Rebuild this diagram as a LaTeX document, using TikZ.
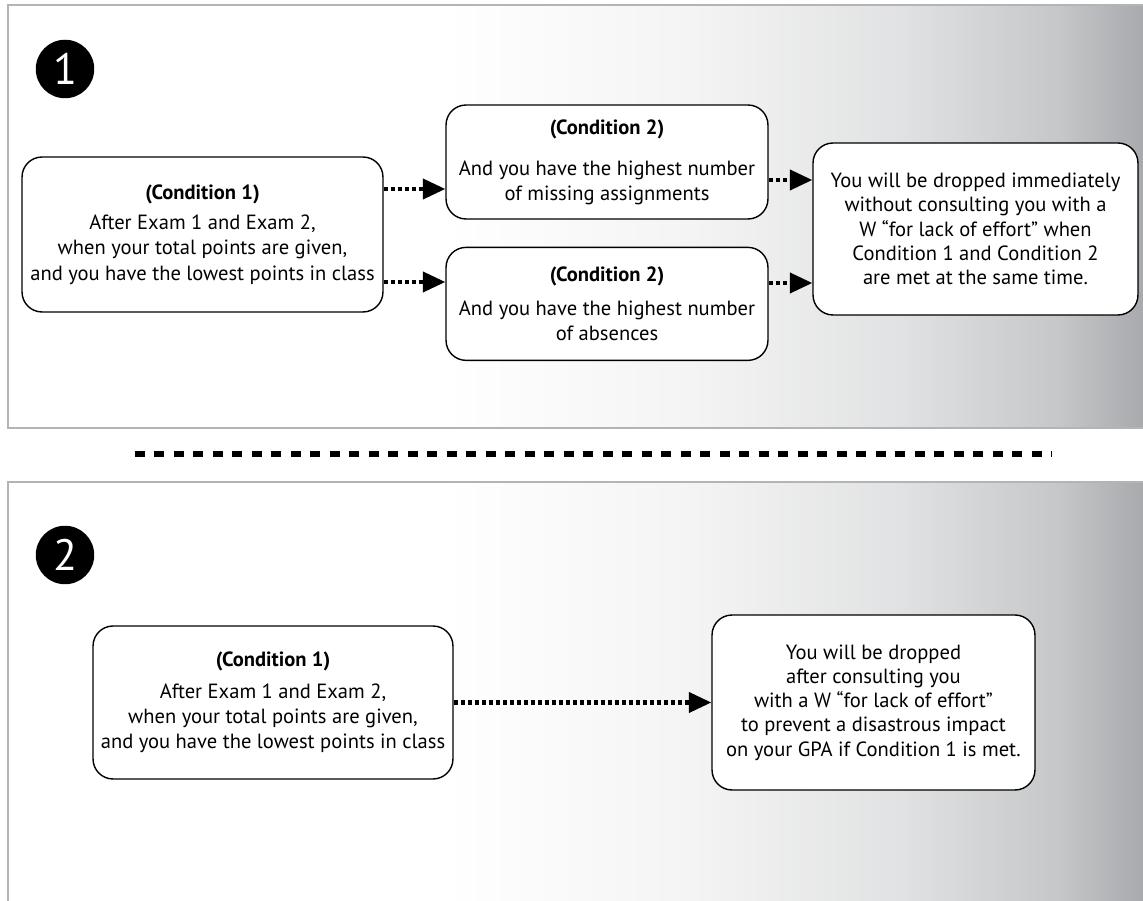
\documentclass[tikz,border=0pt]{standalone}
\usepackage{fontspec}
\setmainfont{PT Sans}
\usepackage{tikz}
\usetikzlibrary{arrows.meta,positioning,calc}
\definecolor{panelline}{RGB}{180,180,182}
\definecolor{fadeA}{RGB}{244,244,244}
\definecolor{fadeB}{RGB}{225,226,227}
\definecolor{fadeC}{RGB}{198,199,201}
\definecolor{fadeD}{RGB}{166,167,171}
\pgfdeclarehorizontalshading{panelfade}{100bp}{color(0bp)=(white); color(44bp)=(white); color(55bp)=(fadeA); color(64bp)=(fadeB); color(71bp)=(fadeC); color(75bp)=(fadeD); color(100bp)=(fadeD)}
\tikzset{condbox/.style={draw,fill=white,rounded corners=0.4cm,line width=0.8pt,align=center,inner sep=0pt,font=\fontsize{11.7}{13.8}\selectfont}}
\tikzset{widebox/.style={condbox,font=\fontsize{11.7}{14.4}\selectfont}}
\tikzset{flow/.style={line width=2.3pt,dash pattern=on 0.08cm off 0.06cm,-{Triangle[length=0.45cm,width=0.4cm]}}}

\begin{document}
\begin{tikzpicture}[x=0.02cm,y=-0.02cm,
  numdot/.style={circle,fill=black,text=white,minimum size=1.17cm,inner sep=0pt,font=\fontsize{25}{25}\selectfont},
  panel/.style={draw=panelline,line width=0.7pt,shading=panelfade}]
  \useasboundingbox (0,0) rectangle (1143,901);
  \clip (0,0) rectangle (1143,901);
  \path[panel] (8,5) rectangle (1150,428);
  \path[panel] (8,482) rectangle (1150,910);
  \draw[line width=0.11cm,dash pattern=on 0.2cm off 0.19cm] (135,454) -- (1052,454);

  \node[numdot] (one) at (65,69) {1};
  \node[widebox,minimum width=7.22cm,minimum height=3.1cm] (cond1) at (202.5,234.5) {\textbf{(Condition 1)}\\[2.8pt] After Exam 1 and Exam 2,\\ when your total points are given,\\ and you have the lowest points in class};
  \node[condbox,minimum width=6.44cm,minimum height=2.28cm] (cond2a) at (607,162) {\textbf{(Condition 2)}\\[10pt] And you have the highest number\\ of missing assignments};
  \node[widebox,minimum width=6.44cm,minimum height=2.26cm,below=0.54cm of cond2a] (cond2b) {\textbf{(Condition 2)}\\[5pt] And you have the highest number\\ of absences};
  \node[condbox,minimum width=6.5cm,minimum height=3.44cm] (drop) at (975.5,229) {You will be dropped immediately\\ without consulting you with a\\ W “for lack of effort” when\\ Condition 1 and Condition 2\\ are met at the same time.};

  \draw[flow] (cond1.east |- 0,189) -- (cond2a.west |- 0,189);
  \draw[flow] (cond1.east |- 0,282) -- (cond2b.west |- 0,282);
  \draw[flow] (cond2a.east |- 0,180) -- (drop.west |- 0,180);
  \draw[flow] (cond2b.east |- 0,283) -- (drop.west |- 0,283);

  \node[numdot] (two) at (65,555) {2};
  \node[widebox,minimum width=7.2cm,minimum height=3.06cm] (solo1) at (273,702.5) {\textbf{(Condition 1)}\\[3.4pt] After Exam 1 and Exam 2,\\ when your total points are given,\\ and you have the lowest points in class};
  \node[condbox,minimum width=6.46cm,minimum height=3.5cm] (consult) at (873.5,702.5) {You will be dropped\\ after consulting you\\ with a W “for lack of effort”\\ to prevent a disastrous impact\\ on your GPA if Condition 1 is met.};

  \draw[flow] (solo1) -- (consult);
\end{tikzpicture}
\end{document}
